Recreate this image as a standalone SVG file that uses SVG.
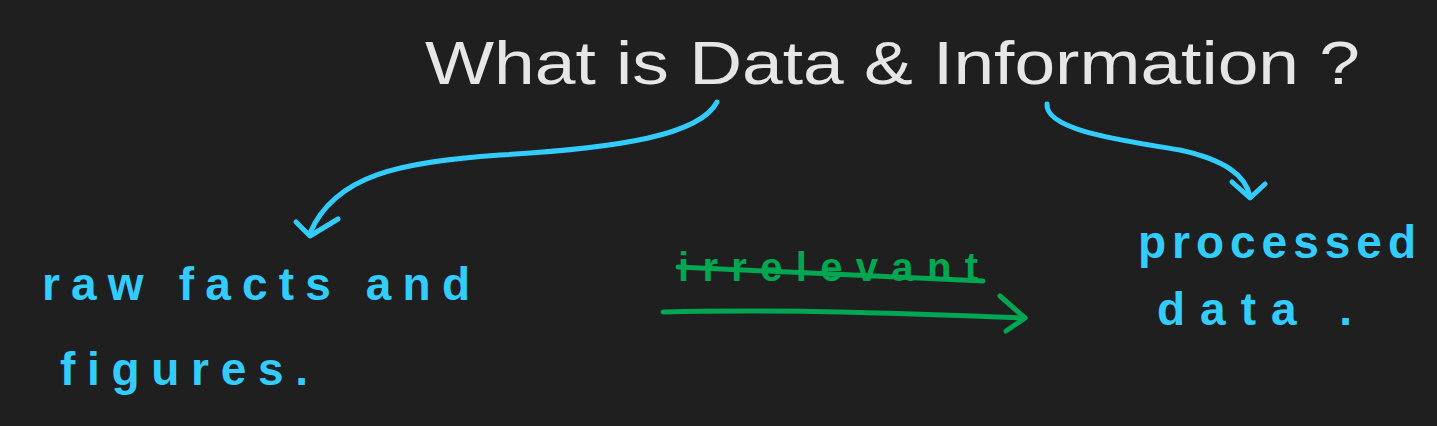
<svg xmlns="http://www.w3.org/2000/svg" width="1437" height="426" viewBox="0 0 1437 426">
<style>
.title{font-family:"Liberation Sans",sans-serif;font-size:62px;fill:#e6e6e6;}
.hand{font-family:"Liberation Sans",sans-serif;font-size:46px;fill:#33ccff;font-weight:bold;}
.blue{fill:none;stroke:#33ccff;stroke-width:5;stroke-linecap:round;stroke-linejoin:round;}
.green{fill:none;stroke:#00a651;stroke-width:5;stroke-linecap:round;stroke-linejoin:round;}
</style>
<rect width="1437" height="426" fill="#1f1f1f"/>
<g id="title"><text class="title" x="425" y="84" textLength="935" lengthAdjust="spacingAndGlyphs">What is Data &amp; Information ?</text></g>
<g id="data-def"><text class="hand" x="42" y="300" textLength="428" lengthAdjust="spacing">raw facts and</text>
<text class="hand" x="60" y="385" textLength="248" lengthAdjust="spacing">figures.</text></g>
<g id="info-def"><text class="hand" x="1138" y="258" textLength="278" lengthAdjust="spacing">processed</text>
<text class="hand" x="1157" y="325" textLength="195" lengthAdjust="spacing">data .</text></g>
<g id="irrelevant"><text x="678" y="281" font-family="Liberation Sans,sans-serif" font-size="40" font-weight="bold" fill="#00a651" textLength="300" lengthAdjust="spacing">irrelevant</text>
<path class="green" d="M678,267 C760,271 900,277 983,281"/></g>
<g id="connectors">
<path class="blue" d="M717,102 C700,135 620,148 500,155 C400,162 335,175 310,233"/>
<path class="blue" d="M296,222 L310,236 L338,219"/>
<path class="blue" d="M1047,104 C1045,130 1120,140 1180,150 C1225,160 1245,175 1250,196"/>
<path class="blue" d="M1232,182 L1250,198 L1265,184"/>
<path class="green" d="M663,312 C780,309 900,313 1025,318"/>
<path class="green" d="M1000,296 L1025,318 L1006,331"/>
</g>
</svg>
